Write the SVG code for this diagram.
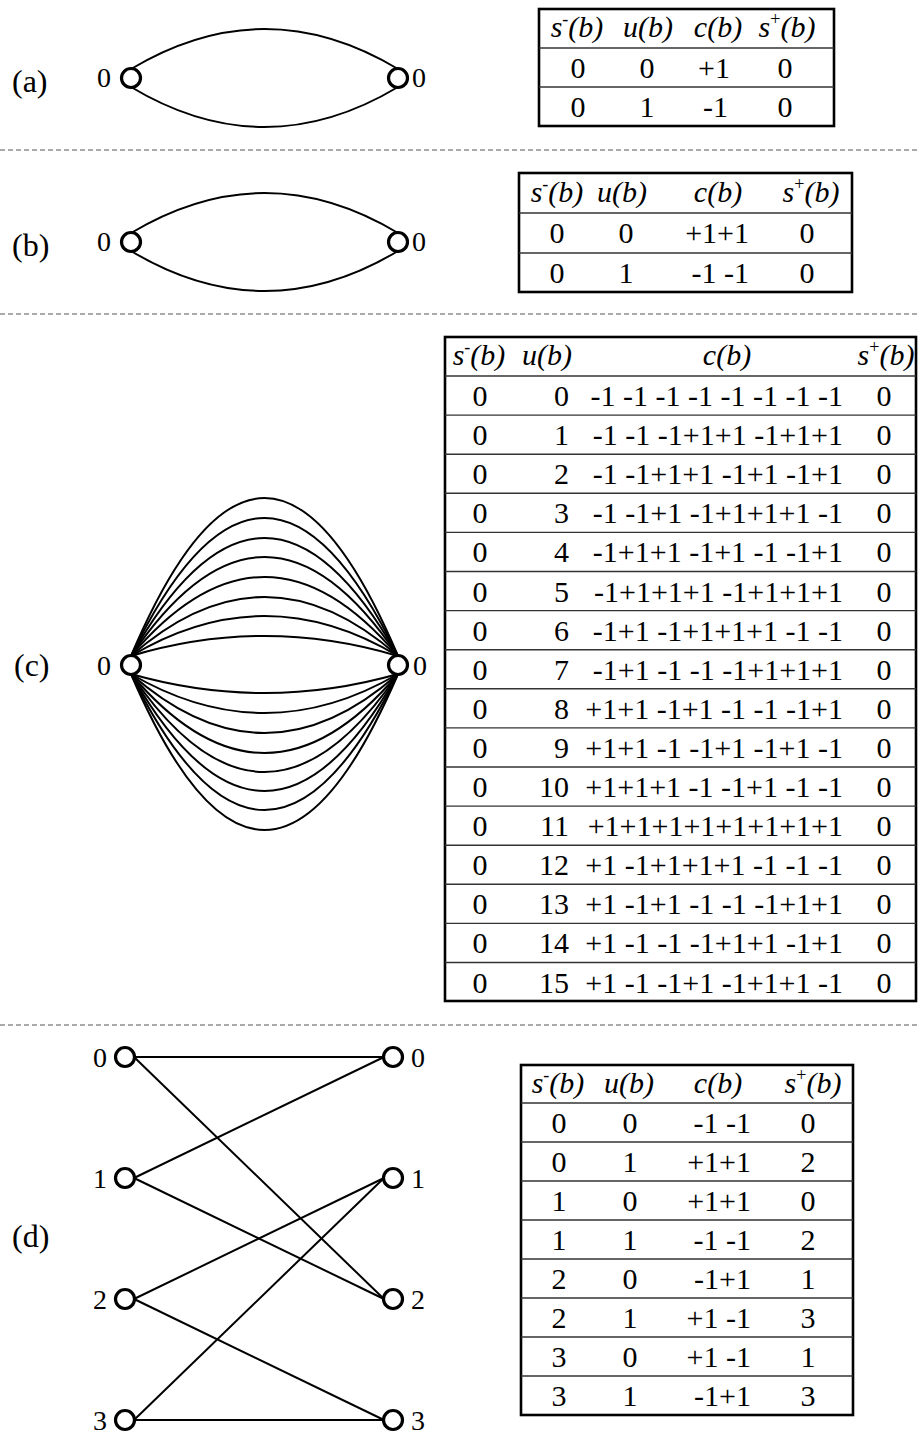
<svg xmlns="http://www.w3.org/2000/svg" width="920" height="1435" viewBox="0 0 920 1435">
<style>
text{font-family:"Liberation Serif","Times New Roman",serif;font-size:30px;fill:#000}
.m{text-anchor:middle}
.e{text-anchor:end}
.h{font-style:italic}
.sup{font-size:18px;font-style:normal}
.lab{font-size:32px}
.nl{font-size:28px}
.node{fill:#fff;stroke:#000;stroke-width:3.2}
.edge{fill:none;stroke:#000;stroke-width:2}
.tb{fill:none;stroke:#000;stroke-width:2.6}
.rl{stroke:#333;stroke-width:1.4}
.sep{stroke:#555;stroke-width:1;stroke-dasharray:5 3}
</style>

<g id="separators">
<line class="sep" x1="0" y1="150" x2="920" y2="150"/>
<line class="sep" x1="0" y1="314" x2="920" y2="314"/>
<line class="sep" x1="0" y1="1025" x2="920" y2="1025"/>
</g>

<g id="panel-labels">
<text class="lab" x="12" y="92">(a)</text>
<text class="lab" x="12" y="256">(b)</text>
<text class="lab" x="14" y="676">(c)</text>
<text class="lab" x="12" y="1247">(d)</text>
</g>

<g id="connectors">
<!-- (a) -->
<path class="edge" d="M131 69 Q264.5 -11 398 69"/>
<path class="edge" d="M131 87 Q264.5 167 398 87"/>
<!-- (b) -->
<path class="edge" d="M131 233 Q264.5 153 398 233"/>
<path class="edge" d="M131 251 Q264.5 331 398 251"/>
<!-- (c) upper -->
<path class="edge" d="M131 656 Q264.5 340 398 656"/>
<path class="edge" d="M131 656 Q264.5 380 398 656"/>
<path class="edge" d="M131 656 Q264.5 420 398 656"/>
<path class="edge" d="M131 656 Q264.5 458 398 656"/>
<path class="edge" d="M131 656 Q264.5 498 398 656"/>
<path class="edge" d="M131 656 Q264.5 538 398 656"/>
<path class="edge" d="M131 656 Q264.5 576 398 656"/>
<path class="edge" d="M131 656 Q264.5 616 398 656"/>
<!-- (c) lower -->
<path class="edge" d="M131 674 Q264.5 712 398 674"/>
<path class="edge" d="M131 674 Q264.5 752 398 674"/>
<path class="edge" d="M131 674 Q264.5 792 398 674"/>
<path class="edge" d="M131 674 Q264.5 832 398 674"/>
<path class="edge" d="M131 674 Q264.5 870 398 674"/>
<path class="edge" d="M131 674 Q264.5 908 398 674"/>
<path class="edge" d="M131 674 Q264.5 946 398 674"/>
<path class="edge" d="M131 674 Q264.5 986 398 674"/>
<!-- (d) -->
<line class="edge" x1="134" y1="1057" x2="384" y2="1057"/>
<line class="edge" x1="134" y1="1057" x2="384" y2="1299"/>
<line class="edge" x1="134" y1="1178" x2="384" y2="1057"/>
<line class="edge" x1="134" y1="1178" x2="384" y2="1299"/>
<line class="edge" x1="134" y1="1299" x2="384" y2="1178"/>
<line class="edge" x1="134" y1="1299" x2="384" y2="1420"/>
<line class="edge" x1="134" y1="1420" x2="384" y2="1178"/>
<line class="edge" x1="134" y1="1420" x2="384" y2="1420"/>
</g>

<g id="a-left"><circle class="node" cx="131" cy="78" r="9.5"/><text class="nl e" x="111" y="87">0</text></g>
<g id="a-right"><circle class="node" cx="398" cy="78" r="9.5"/><text class="nl" x="412" y="87">0</text></g>
<g id="b-left"><circle class="node" cx="131" cy="242" r="9.5"/><text class="nl e" x="111" y="251">0</text></g>
<g id="b-right"><circle class="node" cx="398" cy="242" r="9.5"/><text class="nl" x="412" y="251">0</text></g>
<g id="c-left"><circle class="node" cx="131" cy="665" r="9.5"/><text class="nl e" x="111" y="675">0</text></g>
<g id="c-right"><circle class="node" cx="398" cy="665" r="9.5"/><text class="nl" x="413" y="675">0</text></g>
<g id="d-left-0"><circle class="node" cx="125" cy="1057" r="9.5"/><text class="nl e" x="107" y="1067">0</text></g>
<g id="d-left-1"><circle class="node" cx="125" cy="1178" r="9.5"/><text class="nl e" x="107" y="1188">1</text></g>
<g id="d-left-2"><circle class="node" cx="125" cy="1299" r="9.5"/><text class="nl e" x="107" y="1309">2</text></g>
<g id="d-left-3"><circle class="node" cx="125" cy="1420" r="9.5"/><text class="nl e" x="107" y="1430">3</text></g>
<g id="d-right-0"><circle class="node" cx="393" cy="1057" r="9.5"/><text class="nl" x="411" y="1067">0</text></g>
<g id="d-right-1"><circle class="node" cx="393" cy="1178" r="9.5"/><text class="nl" x="411" y="1188">1</text></g>
<g id="d-right-2"><circle class="node" cx="393" cy="1299" r="9.5"/><text class="nl" x="411" y="1309">2</text></g>
<g id="d-right-3"><circle class="node" cx="393" cy="1420" r="9.5"/><text class="nl" x="411" y="1430">3</text></g>

<!-- Table (a) -->
<g id="table-a">
<rect class="tb" x="539" y="9" width="295" height="117"/>
<line class="rl" x1="539" y1="48" x2="834" y2="48"/>
<line class="rl" x1="539" y1="87" x2="834" y2="87"/>
<text class="m h" x="577" y="37">s<tspan class="sup" dy="-12">-</tspan><tspan dy="12">(b)</tspan></text>
<text class="m h" x="648" y="37">u(b)</text>
<text class="m h" x="718" y="37">c(b)</text>
<text class="m h" x="787" y="37">s<tspan class="sup" dy="-12">+</tspan><tspan dy="12">(b)</tspan></text>
<text class="m" x="578" y="78">0</text><text class="m" x="647" y="78">0</text><text class="e" x="730" y="78">+1</text><text class="m" x="785" y="78">0</text>
<text class="m" x="578" y="117">0</text><text class="m" x="647" y="117">1</text><text class="e" x="728" y="117">-1</text><text class="m" x="785" y="117">0</text>
</g>

<!-- Table (b) -->
<g id="table-b">
<rect class="tb" x="519" y="173" width="333" height="119"/>
<line class="rl" x1="519" y1="213" x2="852" y2="213"/>
<line class="rl" x1="519" y1="253" x2="852" y2="253"/>
<text class="m h" x="557" y="202">s<tspan class="sup" dy="-12">-</tspan><tspan dy="12">(b)</tspan></text>
<text class="m h" x="622" y="202">u(b)</text>
<text class="m h" x="718" y="202">c(b)</text>
<text class="m h" x="811" y="202">s<tspan class="sup" dy="-12">+</tspan><tspan dy="12">(b)</tspan></text>
<text class="m" x="557" y="243">0</text><text class="m" x="626" y="243">0</text><text class="e" x="749" y="243">+1+1</text><text class="m" x="807" y="243">0</text>
<text class="m" x="557" y="283">0</text><text class="m" x="626" y="283">1</text><text class="e" x="749" y="283">-1 -1</text><text class="m" x="807" y="283">0</text>
</g>

<!-- Table (c) -->
<g id="table-c">
<rect class="tb" x="445" y="337" width="471" height="664"/>
<line class="rl" x1="445" y1="376" x2="916" y2="376"/>
<line class="rl" x1="445" y1="415.1" x2="916" y2="415.1"/>
<line class="rl" x1="445" y1="454.2" x2="916" y2="454.2"/>
<line class="rl" x1="445" y1="493.3" x2="916" y2="493.3"/>
<line class="rl" x1="445" y1="532.4" x2="916" y2="532.4"/>
<line class="rl" x1="445" y1="571.5" x2="916" y2="571.5"/>
<line class="rl" x1="445" y1="610.6" x2="916" y2="610.6"/>
<line class="rl" x1="445" y1="649.7" x2="916" y2="649.7"/>
<line class="rl" x1="445" y1="688.8" x2="916" y2="688.8"/>
<line class="rl" x1="445" y1="727.9" x2="916" y2="727.9"/>
<line class="rl" x1="445" y1="767" x2="916" y2="767"/>
<line class="rl" x1="445" y1="806.1" x2="916" y2="806.1"/>
<line class="rl" x1="445" y1="845.2" x2="916" y2="845.2"/>
<line class="rl" x1="445" y1="884.3" x2="916" y2="884.3"/>
<line class="rl" x1="445" y1="923.4" x2="916" y2="923.4"/>
<line class="rl" x1="445" y1="962.5" x2="916" y2="962.5"/>
<text class="m h" x="479" y="365">s<tspan class="sup" dy="-12">-</tspan><tspan dy="12">(b)</tspan></text>
<text class="m h" x="547" y="365">u(b)</text>
<text class="m h" x="727" y="365">c(b)</text>
<text class="m h" x="886" y="365">s<tspan class="sup" dy="-12">+</tspan><tspan dy="12">(b)</tspan></text>
<g id="c-s-minus">
<text class="m" x="480" y="406">0</text><text class="m" x="480" y="445.1">0</text><text class="m" x="480" y="484.2">0</text><text class="m" x="480" y="523.3">0</text>
<text class="m" x="480" y="562.4">0</text><text class="m" x="480" y="601.5">0</text><text class="m" x="480" y="640.6">0</text><text class="m" x="480" y="679.7">0</text>
<text class="m" x="480" y="718.8">0</text><text class="m" x="480" y="757.9">0</text><text class="m" x="480" y="797">0</text><text class="m" x="480" y="836.1">0</text>
<text class="m" x="480" y="875.2">0</text><text class="m" x="480" y="914.3">0</text><text class="m" x="480" y="953.4">0</text><text class="m" x="480" y="992.5">0</text>
</g>
<g id="c-u">
<text class="e" x="569" y="406">0</text><text class="e" x="569" y="445.1">1</text><text class="e" x="569" y="484.2">2</text><text class="e" x="569" y="523.3">3</text>
<text class="e" x="569" y="562.4">4</text><text class="e" x="569" y="601.5">5</text><text class="e" x="569" y="640.6">6</text><text class="e" x="569" y="679.7">7</text>
<text class="e" x="569" y="718.8">8</text><text class="e" x="569" y="757.9">9</text><text class="e" x="569" y="797">10</text><text class="e" x="569" y="836.1">11</text>
<text class="e" x="569" y="875.2">12</text><text class="e" x="569" y="914.3">13</text><text class="e" x="569" y="953.4">14</text><text class="e" x="569" y="992.5">15</text>
</g>
<g id="c-c">
<text class="e" x="843" y="406">-1 -1 -1 -1 -1 -1 -1 -1</text>
<text class="e" x="843" y="445.1">-1 -1 -1+1+1 -1+1+1</text>
<text class="e" x="843" y="484.2">-1 -1+1+1 -1+1 -1+1</text>
<text class="e" x="843" y="523.3">-1 -1+1 -1+1+1+1 -1</text>
<text class="e" x="843" y="562.4">-1+1+1 -1+1 -1 -1+1</text>
<text class="e" x="843" y="601.5">-1+1+1+1 -1+1+1+1</text>
<text class="e" x="843" y="640.6">-1+1 -1+1+1+1 -1 -1</text>
<text class="e" x="843" y="679.7">-1+1 -1 -1 -1+1+1+1</text>
<text class="e" x="843" y="718.8">+1+1 -1+1 -1 -1 -1+1</text>
<text class="e" x="843" y="757.9">+1+1 -1 -1+1 -1+1 -1</text>
<text class="e" x="843" y="797">+1+1+1 -1 -1+1 -1 -1</text>
<text class="e" x="843" y="836.1">+1+1+1+1+1+1+1+1</text>
<text class="e" x="843" y="875.2">+1 -1+1+1+1 -1 -1 -1</text>
<text class="e" x="843" y="914.3">+1 -1+1 -1 -1 -1+1+1</text>
<text class="e" x="843" y="953.4">+1 -1 -1 -1+1+1 -1+1</text>
<text class="e" x="843" y="992.5">+1 -1 -1+1 -1+1+1 -1</text>
</g>
<g id="c-s-plus">
<text class="m" x="884" y="406">0</text><text class="m" x="884" y="445.1">0</text><text class="m" x="884" y="484.2">0</text><text class="m" x="884" y="523.3">0</text>
<text class="m" x="884" y="562.4">0</text><text class="m" x="884" y="601.5">0</text><text class="m" x="884" y="640.6">0</text><text class="m" x="884" y="679.7">0</text>
<text class="m" x="884" y="718.8">0</text><text class="m" x="884" y="757.9">0</text><text class="m" x="884" y="797">0</text><text class="m" x="884" y="836.1">0</text>
<text class="m" x="884" y="875.2">0</text><text class="m" x="884" y="914.3">0</text><text class="m" x="884" y="953.4">0</text><text class="m" x="884" y="992.5">0</text>
</g>
</g>

<!-- Table (d) -->
<g id="table-d">
<rect class="tb" x="521" y="1065" width="332" height="350"/>
<line class="rl" x1="521" y1="1103" x2="853" y2="1103"/>
<line class="rl" x1="521" y1="1142" x2="853" y2="1142"/>
<line class="rl" x1="521" y1="1181" x2="853" y2="1181"/>
<line class="rl" x1="521" y1="1220" x2="853" y2="1220"/>
<line class="rl" x1="521" y1="1259" x2="853" y2="1259"/>
<line class="rl" x1="521" y1="1298" x2="853" y2="1298"/>
<line class="rl" x1="521" y1="1337" x2="853" y2="1337"/>
<line class="rl" x1="521" y1="1376" x2="853" y2="1376"/>
<text class="m h" x="558" y="1093">s<tspan class="sup" dy="-12">-</tspan><tspan dy="12">(b)</tspan></text>
<text class="m h" x="629" y="1093">u(b)</text>
<text class="m h" x="718" y="1093">c(b)</text>
<text class="m h" x="813" y="1093">s<tspan class="sup" dy="-12">+</tspan><tspan dy="12">(b)</tspan></text>
<text class="m" x="559" y="1133">0</text><text class="m" x="630" y="1133">0</text><text class="e" x="751" y="1133">-1 -1</text><text class="m" x="808" y="1133">0</text>
<text class="m" x="559" y="1172">0</text><text class="m" x="630" y="1172">1</text><text class="e" x="751" y="1172">+1+1</text><text class="m" x="808" y="1172">2</text>
<text class="m" x="559" y="1211">1</text><text class="m" x="630" y="1211">0</text><text class="e" x="751" y="1211">+1+1</text><text class="m" x="808" y="1211">0</text>
<text class="m" x="559" y="1250">1</text><text class="m" x="630" y="1250">1</text><text class="e" x="751" y="1250">-1 -1</text><text class="m" x="808" y="1250">2</text>
<text class="m" x="559" y="1289">2</text><text class="m" x="630" y="1289">0</text><text class="e" x="751" y="1289">-1+1</text><text class="m" x="808" y="1289">1</text>
<text class="m" x="559" y="1328">2</text><text class="m" x="630" y="1328">1</text><text class="e" x="751" y="1328">+1 -1</text><text class="m" x="808" y="1328">3</text>
<text class="m" x="559" y="1367">3</text><text class="m" x="630" y="1367">0</text><text class="e" x="751" y="1367">+1 -1</text><text class="m" x="808" y="1367">1</text>
<text class="m" x="559" y="1406">3</text><text class="m" x="630" y="1406">1</text><text class="e" x="751" y="1406">-1+1</text><text class="m" x="808" y="1406">3</text>
</g>
</svg>
